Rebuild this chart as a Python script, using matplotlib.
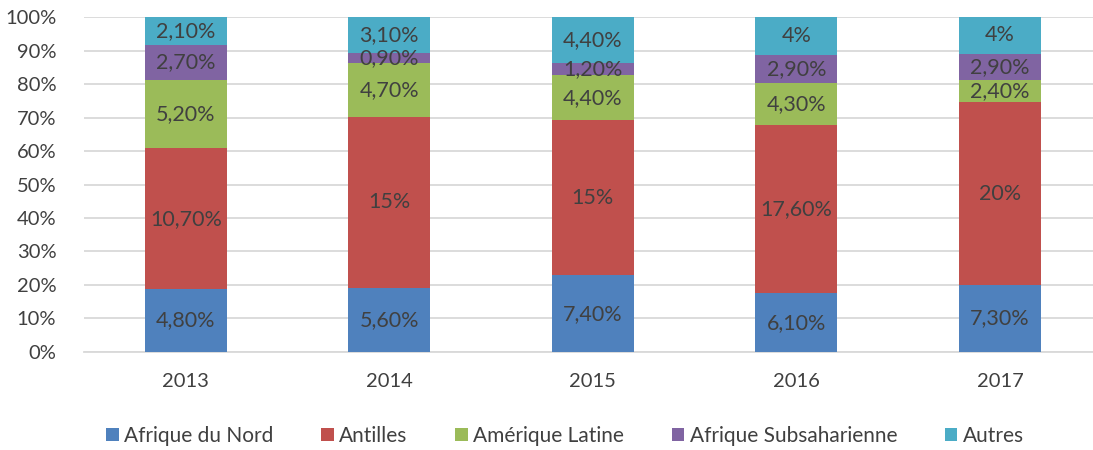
import matplotlib
matplotlib.use("Agg")
import matplotlib.pyplot as plt
import numpy as np

years = ["2013", "2014", "2015", "2016", "2017"]
series_names = ["Afrique du Nord", "Antilles", "Amérique Latine", "Afrique Subsaharienne", "Autres"]
afrique_nord = [4.8, 5.6, 7.4, 6.1, 7.3]
antilles = [10.7, 15, 15, 17.6, 20]
amerique_latine = [5.2, 4.7, 4.4, 4.3, 2.4]
afrique_sub = [2.7, 0.9, 1.2, 2.9, 2.9]
autres = [2.1, 3.1, 4.4, 4, 4]
labels = [
    ["4,80%", "5,60%", "7,40%", "6,10%", "7,30%"],
    ["10,70%", "15%", "15%", "17,60%", "20%"],
    ["5,20%", "4,70%", "4,40%", "4,30%", "2,40%"],
    ["2,70%", "0,90%", "1,20%", "2,90%", "2,90%"],
    ["2,10%", "3,10%", "4,40%", "4%", "4%"],
]
colors = ["#4F81BD", "#C0504D", "#9BBB59", "#8064A2", "#4BACC6"]

plt.rcParams['font.family'] = ['Lato', 'DejaVu Sans']
txt = "#404040"

data = np.array([afrique_nord, antilles, amerique_latine, afrique_sub, autres])
totals = data.sum(axis=0)
pct = data / totals * 100

fig = plt.figure(figsize=(10.93, 4.5), dpi=100)
ax = fig.add_axes([0.0769, 0.218, 0.931, 0.744])
x = np.arange(len(years))
bottom = np.zeros(len(years))
handles = []
for i in range(len(series_names)):
    b = ax.bar(x, pct[i], 0.403, bottom=bottom, color=colors[i], label=series_names[i], zorder=3)
    handles.append(b)
    for j in range(len(years)):
        ax.text(x[j], bottom[j] + pct[i][j] / 2, labels[i][j], ha='center', va='center',
                fontsize=15.5, color=txt, zorder=4)
    bottom += pct[i]

ax.set_xlim(-0.5, len(years) - 0.5)
ax.set_ylim(0, 100)
ax.set_yticks(np.arange(0, 101, 10))
ax.set_yticklabels([f"{v}%" for v in range(0, 101, 10)])
ax.set_xticks(x)
ax.set_xticklabels(years)
ax.tick_params(axis='both', length=0, labelsize=14.5, labelcolor=txt)
ax.tick_params(axis='y', pad=20)
ax.tick_params(axis='x', pad=15)
ax.grid(axis='y', color='#D9D9D9', linewidth=1.3, zorder=0)
for s in ['top', 'right', 'left']:
    ax.spines[s].set_visible(False)
ax.spines['bottom'].set_color('#D9D9D9')
ax.spines['bottom'].set_linewidth(1.3)

leg = fig.legend(handles=handles, labels=series_names, loc='center', bbox_to_anchor=(0.517, 0.032),
                 ncol=5, frameon=False, fontsize=15, handlelength=0.6, handleheight=0.6,
                 handletextpad=0.25, columnspacing=2.3)
for t in leg.get_texts():
    t.set_color(txt)

fig.savefig("out.png", dpi=100)
